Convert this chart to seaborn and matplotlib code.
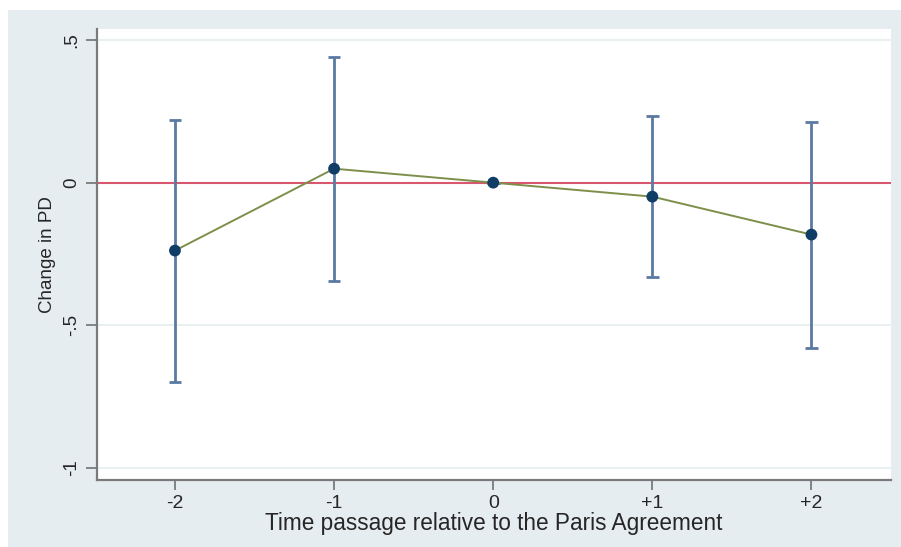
import matplotlib
matplotlib.use('Agg')
import matplotlib.pyplot as plt
import seaborn as sns
import pandas as pd

# event-study estimates around the Paris Agreement
periods = [-2, -1, 0, 1, 2]
period_labels = ['-2', '-1', '0', '+1', '+2']
coef = [-0.238, 0.049, 0.0, -0.049, -0.182]
ci_low = [-0.697, -0.343, 0.0, -0.329, -0.581]
ci_high = [0.221, 0.441, 0.0, 0.235, 0.214]

y_ticks = [-1, -0.5, 0, 0.5]
y_tick_labels = ['-1', '-.5', '0', '.5']

df = pd.DataFrame({'t': periods, 'b': coef, 'lo': ci_low, 'hi': ci_high})

sns.set_theme(style='white')
plt.rcParams['font.family'] = ['Liberation Sans', 'DejaVu Sans']

bg = '#e6edf1'
fig = plt.figure(figsize=(9.01, 5.47), dpi=100)
fig.patch.set_facecolor('white')
# stata-style light graph region
fig.patches.append(plt.Rectangle((8 / 901, 0), 1, 1 - 10 / 547, transform=fig.transFigure,
                                 facecolor=bg, edgecolor='none', zorder=-10))
ax = fig.add_axes([97 / 901, 1 - 480 / 547, (891 - 97) / 901, (480 - 29) / 547])
ax.set_facecolor('white')

for y in [0.5, -0.5, -1]:
    ax.axhline(y, color='#e8f0f2', lw=1.4, zorder=0)
ax.axhline(0, color='#d8566e', lw=1.5, zorder=1)

ax.vlines(df['t'], df['lo'], df['hi'], color='#5a7aa2', lw=2.0, zorder=2)
ax.hlines(df['lo'], df['t'] - 0.04, df['t'] + 0.04, color='#5a7aa2', lw=2.0, zorder=2)
ax.hlines(df['hi'], df['t'] - 0.04, df['t'] + 0.04, color='#5a7aa2', lw=2.0, zorder=2)

sns.lineplot(data=df, x='t', y='b', ax=ax, color='#7d8f4a', lw=1.4, zorder=3)
sns.scatterplot(data=df, x='t', y='b', ax=ax, color='#0f3d66', s=72, edgecolor='none', zorder=4)

ax.set_xlim(-2.49, 2.5)
ax.set_ylim(-1.042, 0.5385)
ax.set_xticks(periods)
ax.set_xticklabels(period_labels, fontsize=14)
ax.set_yticks(y_ticks)
ax.set_yticklabels(y_tick_labels, fontsize=13.5, rotation=90, va='center')
ax.set_xlabel('Time passage relative to the Paris Agreement', fontsize=16.3, labelpad=0)
ax.set_ylabel('Change in PD', fontsize=13.5, labelpad=5)

for s in ['top', 'right']:
    ax.spines[s].set_visible(False)
for s in ['left', 'bottom']:
    ax.spines[s].set_color('#7a7a7a')
    ax.spines[s].set_linewidth(1.6)
ax.tick_params(axis='both', which='both', direction='out', length=8, width=1.3,
               color='#7a7a7a', left=True, bottom=True, pad=4)
ax.tick_params(axis='x', length=7, pad=4)

fig.savefig('out.png', dpi=100, facecolor=fig.get_facecolor())
plt.close(fig)
